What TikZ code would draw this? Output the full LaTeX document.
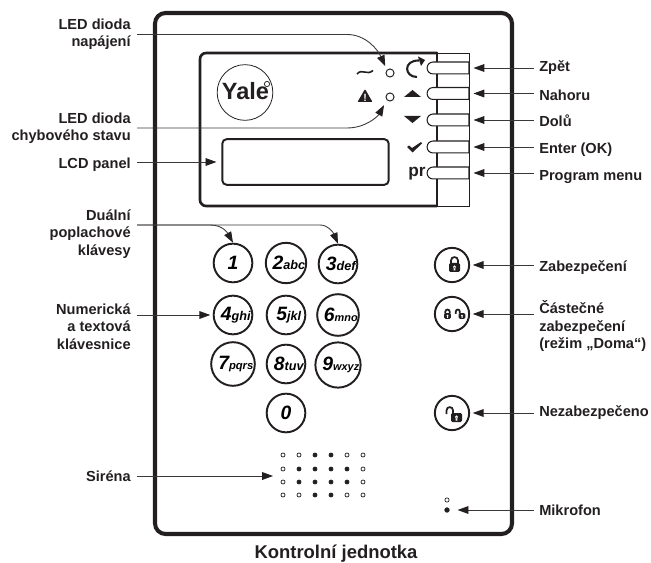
\documentclass[tikz,border=0pt]{standalone}
\usepackage{fontspec}
\setmainfont{Liberation Sans}
\usetikzlibrary{arrows.meta,shapes.misc}
\definecolor{ink}{HTML}{231F20}
\definecolor{leader}{HTML}{3A3839}
\newcommand{\keycap}[3]{\hspace*{3.2pt}{\fontsize{11}{11}\selectfont\bfseries\itshape #1}{\fontsize{#3}{#3}\selectfont\bfseries\itshape #2}}
\tikzset{
  lblright/.style={font=\fontsize{8.3}{9.9}\selectfont\bfseries, text=ink, align=right, inner xsep=3.4pt, inner ysep=0pt},
  lblleft/.style={font=\fontsize{8.3}{9.9}\selectfont\bfseries, text=ink, align=left, inner xsep=2.8pt, inner ysep=0pt},
  leaderline/.style={leader, line width=0.5pt, -{Triangle[length=6.2pt,width=4.4pt,color=ink]}},
  keypad/.style={circle, draw=ink, line width=1.1pt, minimum size=22pt, inner sep=0pt},
  sidekey/.style={circle, draw=ink, line width=1.1pt, minimum size=19.5pt, inner sep=0pt},
  led/.style={circle, draw=ink, line width=0.55pt, fill=white, minimum size=4.6pt, inner sep=0pt},
  pill/.style={rounded rectangle, rounded rectangle right arc=none, draw=ink, line width=0.6pt, fill=white, minimum width=23.8pt, minimum height=6.8pt, inner sep=0pt},
  lockshut/.pic={
    \draw[ink, line width=1pt] (-3.5,-4) -- (-3.5,-7) .. controls (-3.5,-11.5) and (3.5,-11.5) .. (3.5,-7) -- (3.5,-4);
    \fill[ink, rounded corners=0.8pt] (-5.5,-4.5) rectangle (5.5,4.5);
    \fill[white] (0,-0.5) circle (1.6) (-0.8,0) rectangle (0.8,3);
  },
  lockopen/.pic={
    \draw[ink, line width=1pt] (-3.5,-4) -- (-3.5,-7) .. controls (-3.5,-11.5) and (-10,-11.5) .. (-10,-7) -- (-10,-3.5);
    \fill[ink, rounded corners=0.8pt] (-5.5,-4.5) rectangle (5.5,4.5);
    \fill[white] (0,-0.5) circle (1.6) (-0.8,0) rectangle (0.8,3);
  }
}
\begin{document}
\begin{tikzpicture}[x=0.02cm, y=-0.02cm]
  \useasboundingbox (0,0) rectangle (651,563);

  % housing and display panel
  \draw[ink, line width=2.3pt, rounded corners=6pt] (155,13) rectangle (512,534);
  \draw[ink, line width=0.5pt] (437,53) rectangle (469,206);
  \draw[ink, line width=1.5pt, rounded corners=3.5pt] (437,53) -- (200,53) -- (200,206) -- (437,206);
  \draw[ink, line width=1.5pt] (437,52.4) -- (437,206.6);
  \node[circle, draw=ink, line width=0.45pt, minimum size=31.7pt, inner sep=0pt] (logo) at (245,92.5) {};
  \node[font=\fontsize{13.4}{13.4}\selectfont\bfseries, text=ink, anchor=base, inner sep=0pt] (yale) at (245.5,100) {Yale};
  \node[circle, draw=ink, line width=0.4pt, fill=white, minimum size=3pt, inner sep=0pt] (regmark) at (267,84) {};
  \node[draw=ink, line width=1.1pt, rounded corners=2.5pt, minimum width=94.7pt, minimum height=26pt, inner sep=0pt] (lcd) at (305.5,162) {};

  \node[led] (ledpower) at (390,73) {};
  \node[led] (ledfault) at (390,97) {};
  \draw[ink, line width=0.9pt] (357,74) .. controls (362,68) and (367,76) .. (373,70.5);
  \fill[ink, rounded corners=0.5pt] (365,89) -- (372.5,102) -- (357.5,102) -- cycle;
  \node[font=\fontsize{6}{6}\selectfont\bfseries, text=white, inner sep=0pt] (warnmark) at (365,97.5) {!};

  % buttons beside the panel
  \node[pill] (btnback) at (448,68) {};
  \node[pill] (btnup) at (448,93.5) {};
  \node[pill] (btndown) at (448,120) {};
  \node[pill] (btnenter) at (448,147) {};
  \node[pill] (btnprog) at (448,173) {};
  \draw[ink, line width=1.2pt] (417,77) .. controls (404,77) and (403,60) .. (419,60.5);
  \fill[ink] (418,56.5) -- (425,60) -- (421,66) -- cycle;
  \fill[ink] (412.5,90) -- (421,97) -- (404,97) -- cycle;
  \fill[ink] (404,116) -- (421,116) -- (412.5,123) -- cycle;
  \fill[ink] (407,147) -- (409,145.5) -- (412,148) -- (421,142) -- (422,143.5) -- (412.5,152.5) -- cycle;
  \node[font=\fontsize{9.8}{9.8}\selectfont\bfseries, text=ink, anchor=base west, inner sep=0pt] (prmark) at (408,177) {pr};

  % keypad
  \node[keypad] (key1) at (233,263) {{\fontsize{11}{11}\selectfont\bfseries\itshape 1}};
  \node[keypad] (key2) at (286,263) {\keycap{2}{abc}{7.2}};
  \node[keypad] (key3) at (338,264) {\keycap{3}{def}{7.2}};
  \node[keypad] (key4) at (233,315) {\keycap{4}{ghi}{7.2}};
  \node[keypad] (key5) at (286,315) {\keycap{5}{jkl}{7.2}};
  \node[keypad] (key6) at (338,315) {\keycap{6}{mno}{6.2}};
  \node[keypad] (key7) at (233,364) {\keycap{7}{pqrs}{6.4}};
  \node[keypad] (key8) at (286,364) {\keycap{8}{tuv}{7.2}};
  \node[keypad] (key9) at (338,365) {\keycap{9}{wxyz}{6.2}};
  \node[keypad] (key0) at (286,413) {{\fontsize{11}{11}\selectfont\bfseries\itshape 0}};

  \node[sidekey] (keyarm) at (452,265) {};
  \node[sidekey] (keyhome) at (452,314) {};
  \node[sidekey] (keyoff) at (452,413) {};
  \pic at (454.5,267.5) {lockshut};
  \pic[scale=0.62] at (447.5,316) {lockshut};
  \pic[scale=0.62] at (462,316) {lockopen};
  \pic at (456.5,417.5) {lockopen};

  % siren holes and microphone
  \foreach \px/\py/\kind in {283/455/white,299/455/white,315/455/ink,331/455/ink,347/455/white,363/455/white,
                             283/469/white,299/469/ink,315/469/ink,331/469/ink,347/469/ink,363/469/white,
                             283/482/white,299/482/ink,315/482/ink,331/482/ink,347/482/ink,363/482/white,
                             283/495/white,299/495/white,315/495/ink,331/495/ink,347/495/white,363/495/white}
    \draw[ink, line width=0.4pt, fill=\kind] (\px,\py) circle (2);
  \coordinate (sirentip) at (273,476);
  \coordinate (dualfork) at (137,225);
  \node[circle, draw=ink, line width=0.4pt, fill=white, minimum size=2.4pt, inner sep=0pt] (michole) at (447,500) {};
  \node[circle, draw=ink, line width=0.4pt, fill=ink, minimum size=2.6pt, inner sep=0pt] (micdot) at (447,510) {};

  % labels on the left
  \node[lblright, anchor=east] (lblpower) at (137,34.5) {LED dioda\\napájení};
  \node[lblright, anchor=east] (lblfault) at (137,128) {LED dioda\\chybového stavu};
  \node[lblright, anchor=base east] (lbllcd) at (137,169) {LCD panel};
  \node[lblright, anchor=east] (lbldual) at (137,234) {Duální\\poplachové\\klávesy};
  \node[lblright, anchor=east] (lblnum) at (137,326.5) {Numerická\\a textová\\klávesnice};
  \node[lblright, anchor=base east] (lblsiren) at (137,481) {Siréna};

  % labels on the right
  \node[lblleft, anchor=base west] (lblback) at (534,72) {Zpět};
  \node[lblleft, anchor=base west] (lblup) at (534,101) {Nahoru};
  \node[lblleft, anchor=base west] (lbldown) at (534,127) {Dolů};
  \node[lblleft, anchor=base west] (lblenter) at (534,154) {Enter (OK)};
  \node[lblleft, anchor=base west] (lblprog) at (534,180.5) {Program menu};
  \node[lblleft, anchor=base west] (lblarm) at (534,272) {Zabezpečení};
  \node[lblleft, anchor=west] (lblhome) at (534,326) {Částečné\\zabezpečení\\(režim „Doma“)};
  \node[lblleft, anchor=base west] (lbloff) at (534,416) {Nezabezpečeno};
  \node[lblleft, anchor=base west] (lblmic) at (534,515) {Mikrofon};
  \node[font=\fontsize{10.5}{10.5}\selectfont\bfseries, text=ink, anchor=base, inner sep=0pt] (lblunit) at (336,558) {Kontrolní jednotka};

  % connectors
  \draw[leaderline, shorten >=2.2pt] (lblpower.east) -- (347,34.5) .. controls (366,34.5) and (378,50) .. (ledpower.135);
  \draw[leaderline, shorten >=3.2pt] (lblfault.east) -- (347,128) .. controls (366,128) and (378,116) .. (ledfault.225);
  \draw[leaderline, shorten >=2.8pt] (lbllcd.east |- lcd) -- (lcd.west);
  \draw[leaderline] (dualfork) -- (210,225) .. controls (222,225) and (227,232) .. (key1.north);
  \draw[leaderline] (dualfork) -- (320,225) .. controls (328,225) and (333,232) .. (key3.north);
  \draw[leaderline, shorten >=1.4pt] (lblnum.east |- key4) -- (key4.west);
  \draw[leaderline] (lblsiren.east |- sirentip) -- (sirentip);
  \foreach \lbl/\btn in {lblback/btnback,lblup/btnup,lbldown/btndown,lblenter/btnenter,lblprog/btnprog}
    \draw[leaderline, shorten >=2.3pt] (\lbl.west |- \btn) -- (\btn.east);
  \foreach \lbl/\btn in {lblarm/keyarm,lblhome/keyhome,lbloff/keyoff}
    \draw[leaderline, shorten >=1.5pt] (\lbl.west |- \btn) -- (\btn.east);
  \draw[leaderline, shorten >=4.5pt] (lblmic.west |- micdot) -- (micdot.east);
\end{tikzpicture}
\end{document}
